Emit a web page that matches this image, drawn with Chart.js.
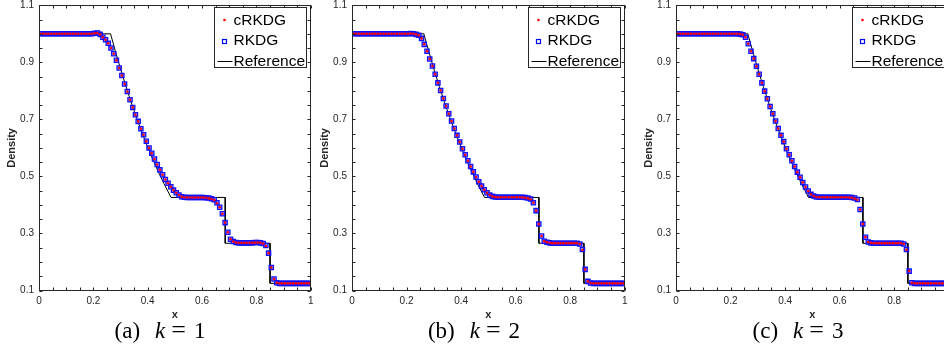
<!DOCTYPE html>
<html>
<head>
<meta charset="utf-8">
<script src="https://cdn.jsdelivr.net/npm/chart.js@4.4.1/dist/chart.umd.min.js"></script>
<style>
  html, body { margin: 0; padding: 0; background: #fff; width: 944px; height: 353px; overflow: hidden; position: relative; }
  canvas { position: absolute; top: 0; }
  .cap { position: absolute; top: 318px; line-height: 23px; font-family: 'Liberation Serif', 'Times New Roman', serif;
         font-size: 23px; color: #000; white-space: nowrap; transform: translateX(-50%); }
  .cap i { margin-left: 15px; }
  .cap .eq { margin: 0 8px 0 6px; font-size: 26px; }
</style>
</head>
<body>
<canvas id="chartA" width="316" height="326" style="left:0px"></canvas>
<canvas id="chartB" width="317" height="326" style="left:313px"></canvas>
<canvas id="chartC" width="317" height="326" style="left:637px"></canvas>
<div class="cap" style="left:160px">(a)<i>k</i><span class="eq">=</span>1</div>
<div class="cap" style="left:474px">(b)<i>k</i><span class="eq">=</span>2</div>
<div class="cap" style="left:798px">(c)<i>k</i><span class="eq">=</span>3</div>
<script>
// cell centres
const xCells = [
  0.005, 0.015, 0.025, 0.035, 0.045, 0.055, 0.065, 0.075, 0.085, 0.095,
  0.105, 0.115, 0.125, 0.135, 0.145, 0.155, 0.165, 0.175, 0.185, 0.195,
  0.205, 0.215, 0.225, 0.235, 0.245, 0.255, 0.265, 0.275, 0.285, 0.295,
  0.305, 0.315, 0.325, 0.335, 0.345, 0.355, 0.365, 0.375, 0.385, 0.395,
  0.405, 0.415, 0.425, 0.435, 0.445, 0.455, 0.465, 0.475, 0.485, 0.495,
  0.505, 0.515, 0.525, 0.535, 0.545, 0.555, 0.565, 0.575, 0.585, 0.595,
  0.605, 0.615, 0.625, 0.635, 0.645, 0.655, 0.665, 0.675, 0.685, 0.695,
  0.705, 0.715, 0.725, 0.735, 0.745, 0.755, 0.765, 0.775, 0.785, 0.795,
  0.805, 0.815, 0.825, 0.835, 0.845, 0.855, 0.865, 0.875, 0.885, 0.895,
  0.905, 0.915, 0.925, 0.935, 0.945, 0.955, 0.965, 0.975, 0.985, 0.995
];

// (a) k = 1
const crkdgK1 = [
  1, 1, 1, 1, 1, 1, 1, 1, 1, 1,
  1, 1, 1, 1, 1, 1, 1, 1, 1, 1,
  1.002, 1.003, 0.998, 0.988, 0.979, 0.967, 0.950, 0.930, 0.907, 0.880,
  0.854, 0.824, 0.798, 0.769, 0.742, 0.716, 0.693, 0.667, 0.646, 0.623,
  0.600, 0.581, 0.561, 0.542, 0.523, 0.506, 0.489, 0.476, 0.464, 0.452,
  0.443, 0.435, 0.429, 0.427, 0.426, 0.426, 0.426, 0.426, 0.426, 0.426,
  0.426, 0.425, 0.423, 0.421, 0.417, 0.406, 0.392, 0.369, 0.338, 0.304,
  0.280, 0.272, 0.268, 0.267, 0.267, 0.267, 0.267, 0.267, 0.267, 0.268,
  0.268, 0.267, 0.265, 0.256, 0.231, 0.181, 0.140, 0.127, 0.125, 0.125,
  0.125, 0.125, 0.125, 0.125, 0.125, 0.125, 0.125, 0.125, 0.125, 0.125
];
const rkdgK1 = [
  1, 1, 1, 1, 1, 1, 1, 1, 1, 1,
  1, 1, 1, 1, 1, 1, 1, 1, 1, 1,
  1.002, 1.003, 0.998, 0.988, 0.979, 0.967, 0.950, 0.930, 0.907, 0.880,
  0.854, 0.824, 0.798, 0.769, 0.742, 0.716, 0.693, 0.667, 0.646, 0.623,
  0.600, 0.581, 0.561, 0.542, 0.523, 0.506, 0.489, 0.476, 0.464, 0.452,
  0.443, 0.435, 0.429, 0.427, 0.426, 0.426, 0.426, 0.426, 0.426, 0.426,
  0.426, 0.425, 0.424, 0.422, 0.418, 0.408, 0.392, 0.369, 0.338, 0.304,
  0.280, 0.272, 0.268, 0.267, 0.267, 0.267, 0.267, 0.267, 0.267, 0.268,
  0.268, 0.267, 0.265, 0.258, 0.231, 0.181, 0.140, 0.127, 0.125, 0.125,
  0.125, 0.125, 0.125, 0.125, 0.125, 0.125, 0.125, 0.125, 0.125, 0.125
];

// (b) k = 2
const crkdgK2 = [
  1, 1, 1, 1, 1, 1, 1, 1, 1, 1,
  1, 1, 1, 1, 1, 1, 1, 1, 1, 1,
  1.000, 1.001, 1.000, 0.998, 0.995, 0.984, 0.963, 0.939, 0.912, 0.887,
  0.858, 0.828, 0.801, 0.773, 0.747, 0.720, 0.694, 0.668, 0.644, 0.621,
  0.597, 0.576, 0.555, 0.535, 0.516, 0.498, 0.481, 0.466, 0.453, 0.443,
  0.435, 0.430, 0.428, 0.427, 0.427, 0.427, 0.427, 0.427, 0.427, 0.427,
  0.427, 0.427, 0.426, 0.425, 0.423, 0.420, 0.408, 0.380, 0.333, 0.291,
  0.273, 0.269, 0.267, 0.266, 0.266, 0.266, 0.266, 0.266, 0.266, 0.266,
  0.266, 0.266, 0.266, 0.263, 0.242, 0.174, 0.132, 0.126, 0.125, 0.125,
  0.125, 0.125, 0.125, 0.125, 0.125, 0.125, 0.125, 0.125, 0.125, 0.125
];
const rkdgK2 = [
  1, 1, 1, 1, 1, 1, 1, 1, 1, 1,
  1, 1, 1, 1, 1, 1, 1, 1, 1, 1,
  1.000, 1.001, 1.000, 0.998, 0.995, 0.984, 0.963, 0.939, 0.912, 0.887,
  0.858, 0.828, 0.801, 0.773, 0.747, 0.720, 0.694, 0.668, 0.644, 0.621,
  0.597, 0.576, 0.555, 0.535, 0.516, 0.498, 0.481, 0.466, 0.453, 0.443,
  0.435, 0.430, 0.428, 0.427, 0.427, 0.427, 0.427, 0.427, 0.427, 0.427,
  0.427, 0.427, 0.427, 0.426, 0.424, 0.421, 0.408, 0.380, 0.333, 0.291,
  0.273, 0.269, 0.267, 0.266, 0.266, 0.266, 0.266, 0.266, 0.266, 0.266,
  0.266, 0.266, 0.266, 0.263, 0.244, 0.174, 0.132, 0.126, 0.125, 0.125,
  0.125, 0.125, 0.125, 0.125, 0.125, 0.125, 0.125, 0.125, 0.125, 0.125
];

// (c) k = 3
const crkdgK3 = [
  1, 1, 1, 1, 1, 1, 1, 1, 1, 1,
  1, 1, 1, 1, 1, 1, 1, 1, 1, 1,
  1.000, 1.000, 1.000, 0.999, 0.997, 0.988, 0.965, 0.939, 0.913, 0.886,
  0.858, 0.828, 0.799, 0.772, 0.745, 0.720, 0.694, 0.668, 0.644, 0.622,
  0.597, 0.576, 0.555, 0.535, 0.515, 0.497, 0.479, 0.463, 0.449, 0.437,
  0.431, 0.428, 0.427, 0.427, 0.427, 0.427, 0.427, 0.427, 0.427, 0.427,
  0.427, 0.427, 0.427, 0.426, 0.425, 0.422, 0.418, 0.384, 0.333, 0.287,
  0.270, 0.267, 0.266, 0.266, 0.266, 0.266, 0.266, 0.266, 0.266, 0.266,
  0.266, 0.266, 0.266, 0.263, 0.243, 0.168, 0.127, 0.125, 0.125, 0.125,
  0.125, 0.125, 0.125, 0.125, 0.125, 0.125, 0.125, 0.125, 0.125, 0.125
];
const rkdgK3 = [
  1, 1, 1, 1, 1, 1, 1, 1, 1, 1,
  1, 1, 1, 1, 1, 1, 1, 1, 1, 1,
  1.000, 1.000, 1.000, 0.999, 0.997, 0.988, 0.965, 0.939, 0.913, 0.886,
  0.858, 0.828, 0.799, 0.772, 0.745, 0.720, 0.694, 0.668, 0.644, 0.622,
  0.597, 0.576, 0.555, 0.535, 0.515, 0.497, 0.479, 0.463, 0.449, 0.437,
  0.431, 0.428, 0.427, 0.427, 0.427, 0.427, 0.427, 0.427, 0.427, 0.427,
  0.427, 0.427, 0.427, 0.427, 0.426, 0.424, 0.419, 0.384, 0.333, 0.287,
  0.270, 0.267, 0.266, 0.266, 0.266, 0.266, 0.266, 0.266, 0.266, 0.266,
  0.266, 0.266, 0.266, 0.263, 0.244, 0.168, 0.127, 0.125, 0.125, 0.125,
  0.125, 0.125, 0.125, 0.125, 0.125, 0.125, 0.125, 0.125, 0.125, 0.125
];

// exact solution
const refX = [0, 0.2634, 0.28, 0.30, 0.32, 0.34, 0.36, 0.38, 0.40, 0.42, 0.44, 0.46, 0.4859, 0.6854, 0.6854, 0.8504, 0.8504, 1];
const refY = [1, 1, 0.9428, 0.8775, 0.8158, 0.7577, 0.7030, 0.6514, 0.6030, 0.5574, 0.5146, 0.4745, 0.4263, 0.4263, 0.2656, 0.2656, 0.125, 0.125];

const axisColor = '#262626';
Chart.defaults.font.family = "'Liberation Sans', Arial, Helvetica, sans-serif";
Chart.defaults.font.size = 10;
Chart.defaults.color = axisColor;

// box, inward ticks and legend in the north-east corner
const frame = {
  id: 'frame',
  afterDraw(chart) {
    const { ctx, chartArea: a, scales } = chart;
    const L = Math.round(a.left) + 0.5, R = Math.round(a.right) - 0.5;
    const T = Math.round(a.top) + 0.5, B = Math.round(a.bottom) - 0.5;
    ctx.save();
    ctx.strokeStyle = axisColor;
    ctx.lineWidth = 1;
    ctx.strokeRect(L, T, R - L, B - T);
    ctx.beginPath();
    scales.x.ticks.forEach(t => {
      const p = Math.round(scales.x.getPixelForValue(t.value)) + 0.5;
      ctx.moveTo(p, B); ctx.lineTo(p, B - 3);
      ctx.moveTo(p, T); ctx.lineTo(p, T + 3);
    });
    scales.y.ticks.forEach(t => {
      const p = Math.round(scales.y.getPixelForValue(t.value)) + 0.5;
      ctx.moveTo(L, p); ctx.lineTo(L + 3, p);
      ctx.moveTo(R, p); ctx.lineTo(R - 3, p);
    });
    ctx.stroke();

    // legend
    const bx = Math.round(a.right - 97) + 0.5, by = Math.round(a.top + 2) + 0.5;
    const bw = 92, bh = 60;
    ctx.fillStyle = '#fff';
    ctx.fillRect(bx, by, bw, bh);
    ctx.strokeRect(bx, by, bw, bh);
    const rows = [by + 12.5, by + 33, by + 53.5];
    const ds = chart.data.datasets;
    ctx.fillStyle = '#ff0000';
    ctx.beginPath(); ctx.arc(bx + 10, rows[0], 1.3, 0, Math.PI * 2); ctx.fill();
    ctx.strokeStyle = '#0000ff';
    ctx.lineWidth = 1.2;
    ctx.strokeRect(bx + 8, Math.round(rows[1]) - 1.5, 4, 4);
    ctx.lineWidth = 1;
    ctx.strokeStyle = '#000';
    ctx.beginPath(); ctx.moveTo(bx + 3, Math.round(rows[2]) + 0.5); ctx.lineTo(bx + 18, Math.round(rows[2]) + 0.5); ctx.stroke();
    ctx.fillStyle = '#000';
    ctx.font = "15.5px 'Liberation Sans', Arial, sans-serif";
    ctx.textBaseline = 'middle';
    ctx.textAlign = 'left';
    ds.forEach((d, i) => ctx.fillText(d.label, bx + 19, rows[i] + 0.5));
    ctx.restore();
  }
};

function noPad(s) {
  s.paddingTop = 0; s.paddingBottom = 0; s.paddingLeft = 0; s.paddingRight = 0;
}

function makeChart(id, cValues, rValues) {
  return new Chart(document.getElementById(id), {
    type: 'scatter',
    data: {
      datasets: [
        {
          label: 'cRKDG',
          data: xCells.map((x, i) => ({ x: x, y: cValues[i] })),
          pointStyle: 'circle', pointRadius: 1.3, borderWidth: 0,
          backgroundColor: '#ff0000', borderColor: '#ff0000', order: 0
        },
        {
          label: 'RKDG',
          data: xCells.map((x, i) => ({ x: x, y: rValues[i] })),
          pointStyle: 'rect', pointRadius: 3, borderWidth: 1.3,
          backgroundColor: 'rgba(60,60,255,0.45)', borderColor: '#1010ff', order: 1
        },
        {
          label: 'Reference',
          data: refX.map((x, i) => ({ x: x, y: refY[i] })),
          showLine: true, pointRadius: 0, borderWidth: 1, tension: 0,
          borderColor: '#000', backgroundColor: '#000', order: 2
        }
      ]
    },
    options: {
      responsive: false,
      animation: false,
      events: [],
      layout: { padding: { top: 5, right: 5, left: 0, bottom: 0 } },
      plugins: { legend: { display: false }, tooltip: { enabled: false } },
      scales: {
        x: {
          type: 'linear', min: 0, max: 1,
          grid: { display: false, drawTicks: false },
          border: { display: false },
          ticks: {
            stepSize: 0.05, autoSkip: false, maxRotation: 0, padding: 5,
            callback: v => (Math.round(v * 100) % 20 === 0 ? String(Math.round(v * 10) / 10) : '')
          },
          title: { display: true, text: 'x', font: { weight: 'bold', size: 11 }, padding: { top: 0, bottom: 4 } },
          afterFit: s => { s.height = 35.5; noPad(s); }
        },
        y: {
          type: 'linear', min: 0.1, max: 1.1,
          grid: { display: false, drawTicks: false },
          border: { display: false },
          ticks: {
            stepSize: 0.05, autoSkip: false, padding: 5,
            callback: v => (Math.round(v * 100) % 20 === 10 ? String(Math.round(v * 10) / 10) : '')
          },
          title: { display: true, text: 'Density', font: { weight: 'bold', size: 11 }, padding: { top: 5, bottom: 0 } },
          afterFit: s => { s.width = 39; noPad(s); }
        }
      }
    },
    plugins: [frame]
  });
}

makeChart('chartA', crkdgK1, rkdgK1);
makeChart('chartB', crkdgK2, rkdgK2);
makeChart('chartC', crkdgK3, rkdgK3);
</script>
</body>
</html>
